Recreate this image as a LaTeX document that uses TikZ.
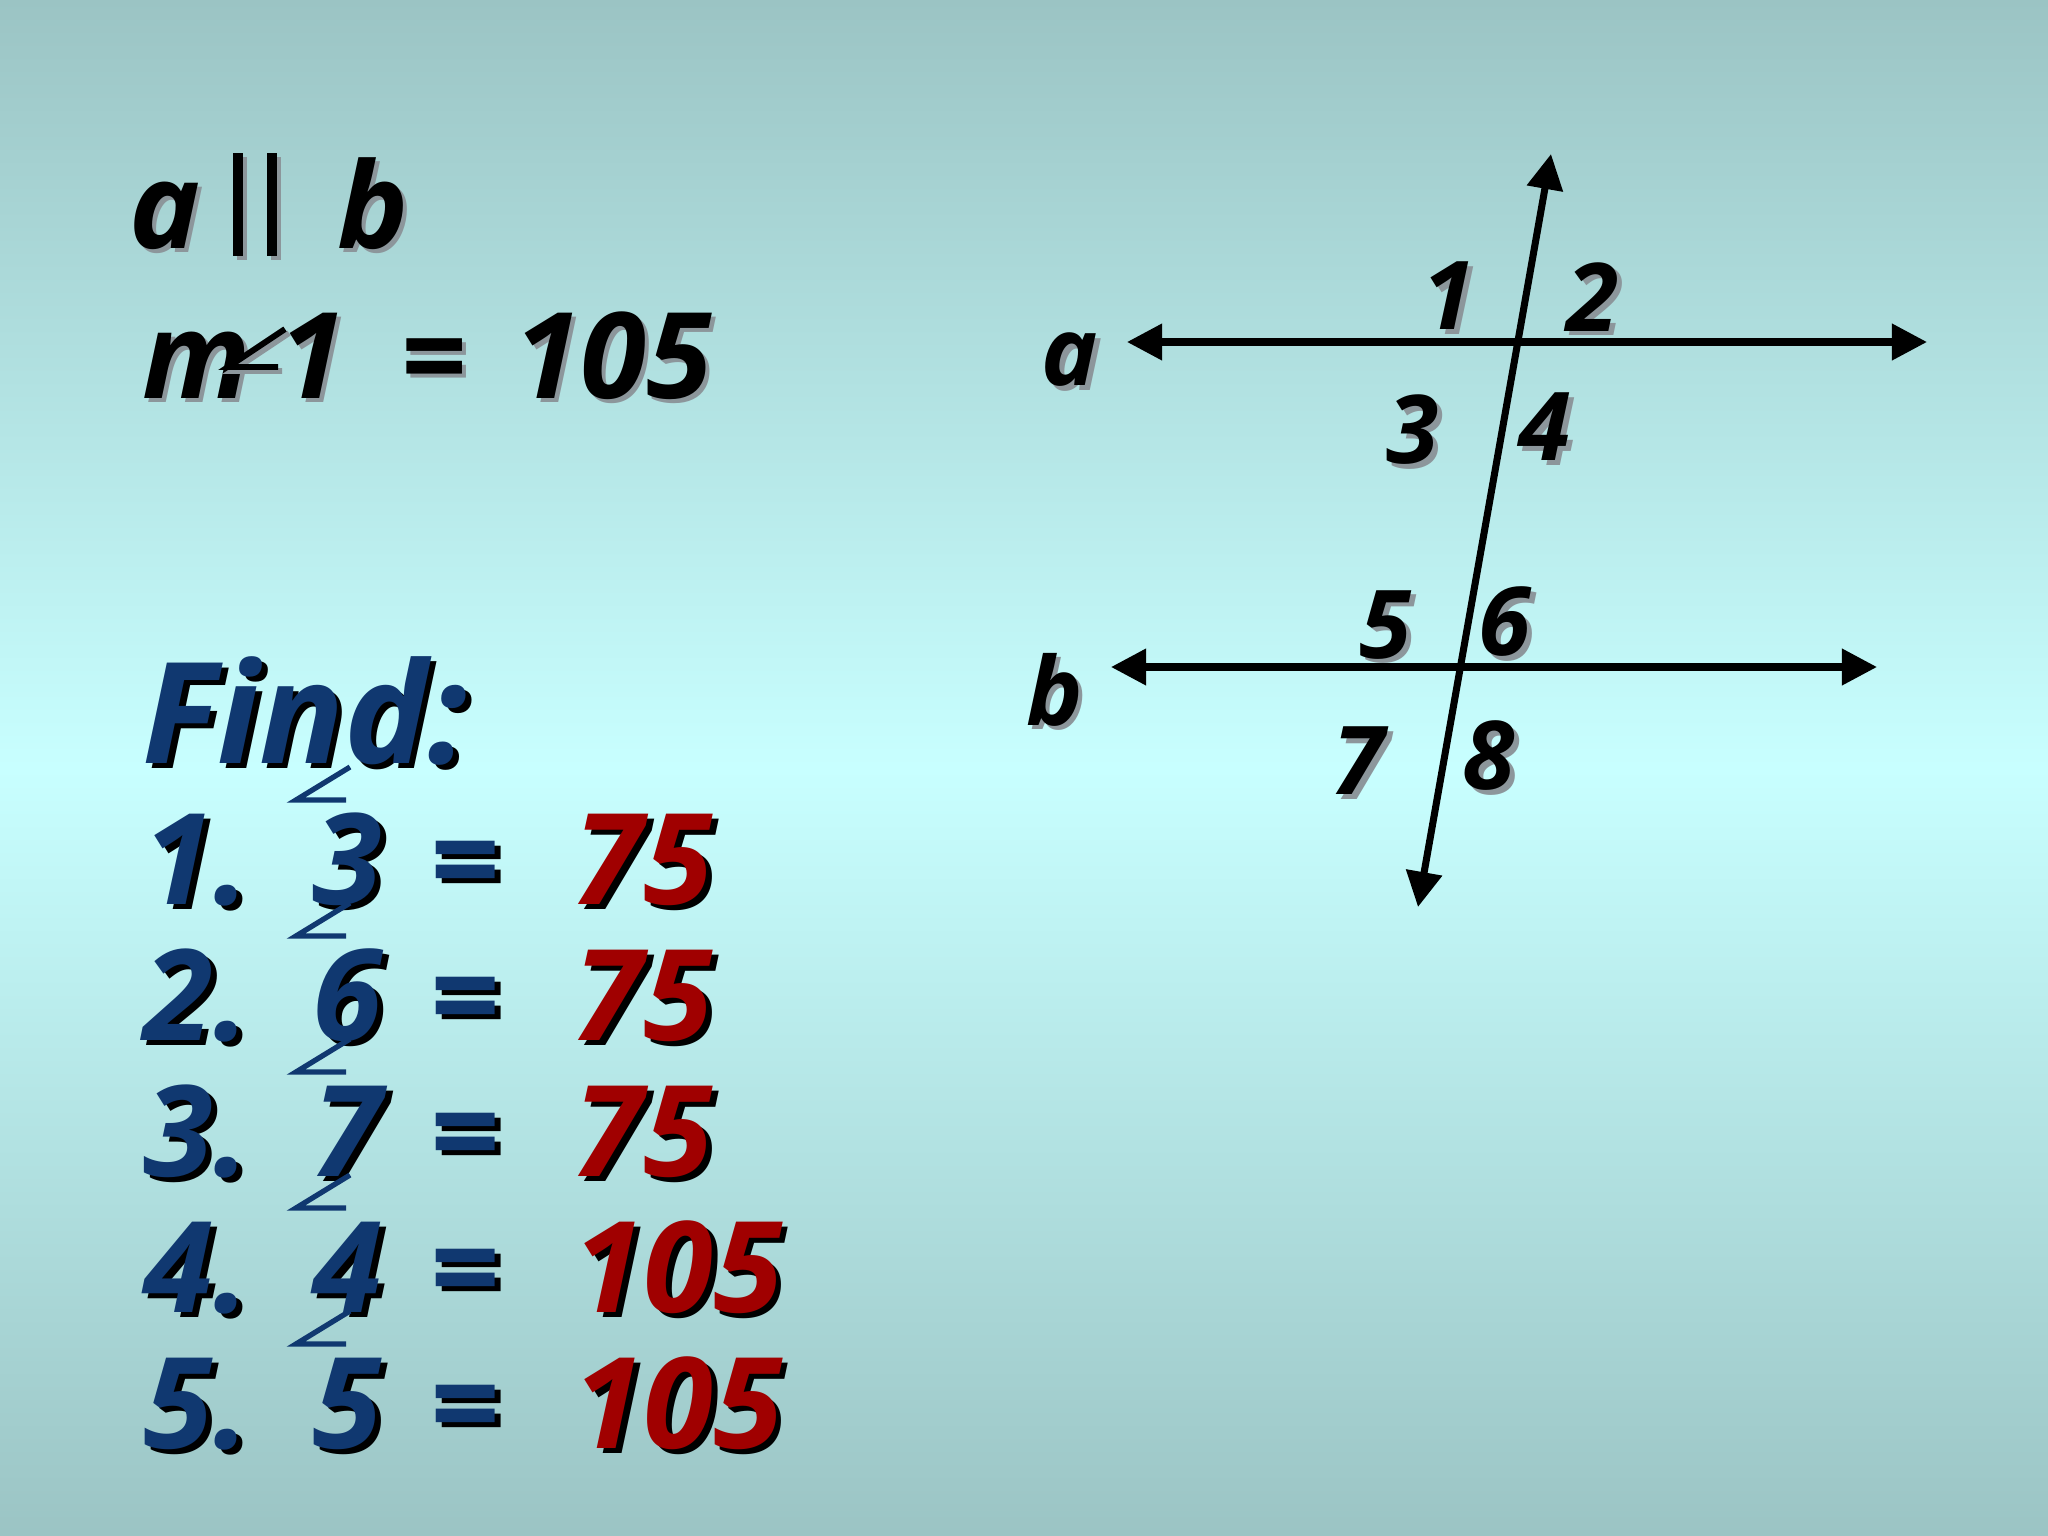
\documentclass[tikz,border=0pt]{standalone}
\usepackage{fontspec}
\setmainfont{Open Sans}
\usepackage{tikz}
\usetikzlibrary{arrows.meta}

\definecolor{bgtop}{RGB}{155,196,196}
\definecolor{bgmid}{RGB}{200,255,255}
\definecolor{navy}{RGB}{16,56,112}
\definecolor{darkred}{RGB}{160,0,0}
\definecolor{shadowgray}{RGB}{140,150,155}

\tikzset{
	toptxt/.style={inner sep=0pt, anchor=base west, font=\fontsize{34}{34}\selectfont\bfseries\itshape},
	listtxt/.style={inner sep=0pt, anchor=base west, font=\fontsize{36}{36}\selectfont\bfseries\itshape},
	figtxt/.style={inner sep=0pt, font=\fontsize{27}{27}\selectfont\bfseries\itshape},
	greyshadow/.style={text=shadowgray, xshift=1.2pt, yshift=-1.2pt},
	blackshadow/.style={text=black, xshift=1.6pt, yshift=-1.6pt},
	ray/.style={line width=2pt, {Triangle[length=10pt,width=10pt]}-{Triangle[length=10pt,width=10pt]}}
}

\begin{document}
\begin{tikzpicture}[x=0.01cm, y=-0.01cm]

	\shade [top color=bgtop, bottom color=bgtop, middle color=bgmid] (0,0) rectangle (2048,1536);

	% a || b
	\node [toptxt, greyshadow] (as) at (129,248) {a};
	\node [toptxt] (a) at (129,248) {a};
	\draw [line width=2.6pt, shadowgray] (242,157) -- (242,260) (276,157) -- (276,260);
	\draw [line width=2.6pt] (238,153) -- (238,256) (272,153) -- (272,256);
	\node [toptxt, greyshadow] (bs) at (337,248) {b};
	\node [toptxt] (b) at (337,248) {b};

	% m<1 = 105
	\node [toptxt, greyshadow] (ms) at (142,398) {m};
	\node [toptxt] (m) at (142,398) {m};
	\draw [line width=1.7pt, shadowgray] (289,333) -- (232,371) -- (282,371);
	\draw [line width=1.7pt] (285,329) -- (228,367) -- (278,367);
	\node [toptxt, greyshadow] (ones) at (279,398) {1};
	\node [toptxt] (one) at (279,398) {1};
	\node [toptxt, greyshadow] (eqs) at (400,398) {=};
	\node [toptxt] (eq) at (400,398) {=};
	\node [toptxt, greyshadow] (givens) at (514,398) {105};
	\node [toptxt] (given) at (514,398) {105};

	% Find:
	\node [listtxt, font=\fontsize{40}{40}\selectfont\bfseries\itshape, blackshadow] (finds) at (142,763) {Find:};
	\node [listtxt, font=\fontsize{40}{40}\selectfont\bfseries\itshape, text=navy] (find) at (142,763) {Find:};

	\foreach \i/\n/\v in {1/3/75, 2/6/75, 3/7/75, 4/4/105, 5/5/105}{
		\pgfmathsetmacro{\yb}{904+136*(\i-1)}
		\node [listtxt, blackshadow] (nums\i) at (143,\yb) {\i.};
		\node [listtxt, text=navy] (num\i) at (143,\yb) {\i.};
		\draw [navy, line width=1.5pt] (350,\yb-137) -- (296,\yb-104) -- (346,\yb-104);
		\node [listtxt, blackshadow] (degs\i) at (312,\yb) {\n};
		\node [listtxt, text=navy] (deg\i) at (312,\yb) {\n};
		\node [listtxt, blackshadow] (eqs\i) at (429,\yb) {=};
		\node [listtxt, text=navy] (eq\i) at (429,\yb) {=};
		\node [listtxt, blackshadow] (anss\i) at (573,\yb) {\v};
		\node [listtxt, text=darkred] (ans\i) at (573,\yb) {\v};
	}

	% the two parallels and the transversal
	\coordinate (aL) at (1127,342);
	\coordinate (aR) at (1927,342);
	\coordinate (bL) at (1111,667);
	\coordinate (bR) at (1877,667);
	\coordinate (tT) at (1551,154);
	\coordinate (tB) at (1418,907);
	\draw [ray] (aL) -- (aR);
	\draw [ray] (bL) -- (bR);
	\draw [ray] (tB) -- (tT);

	\foreach \t/\x/\y in {1/1449/296, 2/1593/297, 3/1413/430, 4/1545/427, 5/1386/625, 6/1505/622, 7/1359/761, 8/1489/756}{
		\node [figtxt, greyshadow] (angs\t) at (\x,\y) {\t};
		\node [figtxt] (ang\t) at (\x,\y) {\t};
	}
	\node [figtxt, greyshadow] (las) at (1070,360) {a};
	\node [figtxt] (la) at (1070,360) {a};
	\node [figtxt, greyshadow] (lbs) at (1055,690) {b};
	\node [figtxt] (lb) at (1055,690) {b};

\end{tikzpicture}
\end{document}
